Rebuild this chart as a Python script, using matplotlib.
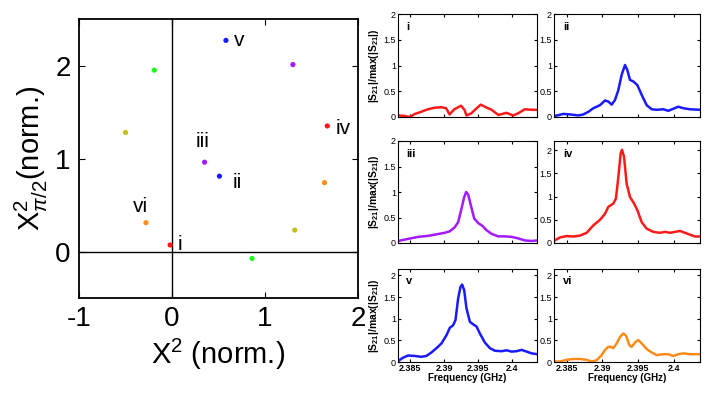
import numpy as np
import matplotlib.pyplot as plt

plt.rcParams['font.family'] = ['Liberation Sans', 'DejaVu Sans']
plt.rcParams['mathtext.fontset'] = 'custom'
plt.rcParams['mathtext.rm'] = 'Liberation Sans'
plt.rcParams['mathtext.it'] = 'Liberation Sans:italic'
plt.rcParams['mathtext.bf'] = 'Liberation Sans:bold'
plt.rcParams['axes.unicode_minus'] = False

# quadrature scatter (norm.)
pt_x = [0.58, 1.30, -0.19, 1.67, -0.50, 0.35, 0.51, 1.64, -0.28, 1.32, -0.02, 0.86]
pt_y = [2.27, 2.01, 1.95, 1.35, 1.28, 0.96, 0.81, 0.74, 0.31, 0.23, 0.07, -0.075]
pt_col = ['#1a1aff', '#a31aff', '#1aff1a', '#ff1a1a', '#c2c21a', '#a31aff',
          '#1a1aff', '#ff8c1a', '#ff8c1a', '#c2c21a', '#ff1a1a', '#1aff1a']
roman = ['v', 'iv', 'iii', 'ii', 'vi', 'i']
roman_pt = [0, 3, 5, 6, 8, 10]   # which point each label belongs to

# spectra |S21|/max(|S21|) vs frequency (GHz)
f_i = [2.3833, 2.3842, 2.3849, 2.3857, 2.3866, 2.3876, 2.3886, 2.3896, 2.3903, 2.3908,
       2.3915, 2.3925, 2.3930, 2.3933, 2.3940, 2.3948, 2.3954, 2.3963, 2.3970, 2.3980,
       2.3992, 2.4002, 2.4009, 2.4019, 2.4029, 2.4037]
s_i = [0.03, 0.02, 0.0, 0.06, 0.10, 0.15, 0.18, 0.19, 0.17, 0.05,
       0.15, 0.22, 0.14, 0.03, 0.07, 0.17, 0.24, 0.18, 0.14, 0.04,
       0.08, 0.03, 0.07, 0.15, 0.14, 0.14]

f_ii = [2.38334, 2.38451, 2.38545, 2.38662, 2.38732, 2.38802, 2.38872, 2.38966, 2.39036, 2.39083,
        2.39130, 2.39176, 2.39223, 2.39270, 2.39317, 2.39350, 2.39387, 2.39434, 2.39490, 2.39551,
        2.39621, 2.39691, 2.39761, 2.39855, 2.39925, 2.39995, 2.40066, 2.40136, 2.40229, 2.40370]
s_ii = [0.02, 0.06, 0.05, 0.03, 0.05, 0.10, 0.17, 0.23, 0.32, 0.30,
        0.24, 0.33, 0.52, 0.82, 1.01, 0.91, 0.72, 0.69, 0.62, 0.43,
        0.23, 0.15, 0.14, 0.15, 0.12, 0.16, 0.20, 0.17, 0.15, 0.14]

f_iii = [2.3832, 2.38468, 2.38616, 2.38764, 2.38887, 2.39010, 2.39084, 2.39158, 2.39207, 2.39256,
         2.39296, 2.39325, 2.39355, 2.39394, 2.39444, 2.39503, 2.39562, 2.39626, 2.39700, 2.39798,
         2.39897, 2.39996, 2.40094, 2.40193, 2.40291, 2.40370]
s_iii = [0.04, 0.08, 0.12, 0.14, 0.17, 0.20, 0.23, 0.31, 0.41, 0.67,
         0.90, 1.00, 0.95, 0.74, 0.48, 0.39, 0.34, 0.25, 0.18, 0.13,
         0.13, 0.12, 0.09, 0.05, 0.04, 0.05]

f_iv = [2.38334, 2.38404, 2.38498, 2.38591, 2.38685, 2.38779, 2.38872, 2.38966, 2.39036, 2.39083,
        2.39153, 2.39190, 2.39223, 2.39256, 2.39275, 2.39303, 2.39340, 2.39387, 2.39434, 2.39490,
        2.39551, 2.39621, 2.39715, 2.39808, 2.39878, 2.39949, 2.40019, 2.40089, 2.40159, 2.40229,
        2.40300, 2.40370]
s_iv = [0.06, 0.12, 0.15, 0.14, 0.16, 0.22, 0.38, 0.50, 0.63, 0.78,
        0.85, 0.96, 1.42, 1.93, 2.01, 1.86, 1.28, 0.99, 0.88, 0.71,
        0.45, 0.31, 0.24, 0.22, 0.24, 0.22, 0.24, 0.26, 0.22, 0.18,
        0.14, 0.14]

f_v = [2.3832, 2.38394, 2.38468, 2.38566, 2.38665, 2.38739, 2.38813, 2.38887, 2.38961, 2.39035,
       2.39084, 2.39133, 2.39168, 2.39207, 2.39242, 2.39266, 2.39296, 2.39330, 2.39380, 2.39429,
       2.39478, 2.39527, 2.39601, 2.39675, 2.39749, 2.39848, 2.39922, 2.39996, 2.40069, 2.40143,
       2.40217, 2.40291, 2.40370]
s_v = [0.02, 0.10, 0.15, 0.14, 0.12, 0.14, 0.22, 0.32, 0.43, 0.62,
       0.79, 0.85, 0.97, 1.47, 1.74, 1.79, 1.66, 1.24, 0.93, 0.87,
       0.82, 0.66, 0.45, 0.32, 0.26, 0.25, 0.27, 0.24, 0.25, 0.28,
       0.24, 0.20, 0.18]

f_vi = [2.38334, 2.38404, 2.38498, 2.38591, 2.38685, 2.38779, 2.38849, 2.38919, 2.38989, 2.39036,
        2.39083, 2.39116, 2.39153, 2.39200, 2.39247, 2.39293, 2.39331, 2.39378, 2.39410, 2.39457,
        2.39504, 2.39551, 2.39621, 2.39691, 2.39761, 2.39855, 2.39925, 2.39995, 2.40066, 2.40136,
        2.40229, 2.40370]
s_vi = [0.01, 0.01, 0.05, 0.07, 0.07, 0.05, 0.01, 0.04, 0.16, 0.28,
        0.35, 0.35, 0.32, 0.43, 0.58, 0.66, 0.61, 0.39, 0.35, 0.45,
        0.51, 0.43, 0.30, 0.22, 0.16, 0.18, 0.18, 0.14, 0.18, 0.20,
        0.18, 0.18]

spectra = [(f_i, s_i, '#ff1a1a', 'i'), (f_ii, s_ii, '#1a1aff', 'ii'),
           (f_iii, s_iii, '#a31aff', 'iii'), (f_iv, s_iv, '#ff1a1a', 'iv'),
           (f_v, s_v, '#1a1aff', 'v'), (f_vi, s_vi, '#ff8c1a', 'vi')]
ytop = [2.0, 2.0, 2.0, 2.2, 2.15, 2.15]

W, H = 706, 394
fig = plt.figure(figsize=(W / 100, H / 100), dpi=100)


def px_axes(x0, y0, x1, y1):
    return fig.add_axes([x0 / W, (H - y1) / H, (x1 - x0) / W, (y1 - y0) / H])


# left: scatter
ax = px_axes(79, 19, 358, 298)
ax.axhline(0, color='k', lw=1)
ax.axvline(0, color='k', lw=1)
ax.scatter(pt_x, pt_y, c=pt_col, s=14, zorder=3, edgecolors='none')
lab_off = [(0.14, 0.0), (0.17, -0.03), (-0.02, 0.22), (0.19, -0.07), (-0.06, 0.17), (0.10, 0.0)]
for name, k, (dx, dy) in zip(roman, roman_pt, lab_off):
    ax.text(pt_x[k] + dx, pt_y[k] + dy, name, fontsize=15, ha='center', va='center')
ax.set_xlim(-1, 2)
ax.set_ylim(-0.5, 2.5)
ax.set_xticks([-1, 0, 1, 2])
ax.set_yticks([0, 1, 2])
for sp in ax.spines.values():
    sp.set_linewidth(1.3)
ax.tick_params(direction='in', top=True, right=True, labelsize=20, length=4, pad=6)
ax.set_xlabel(r'X$^2$ (norm.)', fontsize=21, labelpad=3)
ax.set_ylabel(r'X$^2_{\pi/2}$(norm.)', fontsize=21, labelpad=4)

# right: spectra
cols = [(398, 537), (554, 700)]
rows = [(14, 117), (141, 243), (269, 362)]
for n, (f, s, c, name) in enumerate(spectra):
    r, cc = divmod(n, 2)
    a = px_axes(cols[cc][0], rows[r][0], cols[cc][1], rows[r][1])
    a.plot(f, s, color=c, lw=1.8)
    a.set_xlim(2.3832, 2.4037)
    a.set_ylim(0, ytop[n])
    a.set_xticks([2.385, 2.39, 2.395, 2.4])
    a.set_yticks([0, 0.5, 1, 1.5, 2])
    a.set_yticklabels(['0', '0.5', '1', '1.5', '2'])
    a.tick_params(direction='in', top=True, right=True, labelsize=6.5, length=2.5, pad=1.5)
    a.text(0.06, 0.87, name, transform=a.transAxes, fontsize=8, fontweight='bold', va='center')
    if r == 2:
        a.set_xticklabels(['2.385', '2.39', '2.395', '2.4'], fontweight='bold')
        a.set_xlabel('Frequency (GHz)', fontsize=7, fontweight='bold', labelpad=0)
    else:
        a.set_xticklabels([])
    if cc == 0:
        a.set_ylabel(r'|S$_{\mathbf{21}}$|/max(|S$_{\mathbf{21}}$|)', fontsize=7.5,
                     fontweight='bold', labelpad=2)

fig.savefig('out.png', dpi=100)
